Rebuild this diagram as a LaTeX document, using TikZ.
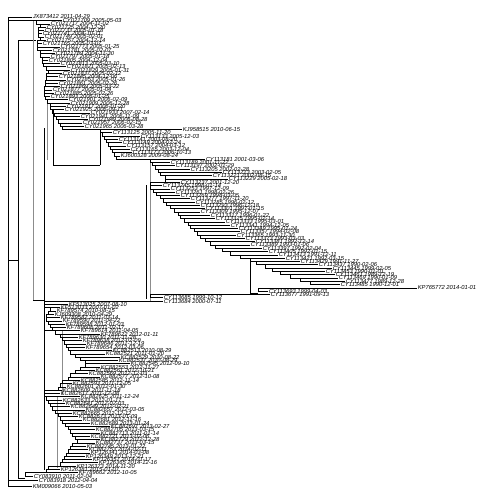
\documentclass[tikz,border=0pt]{standalone}
\usepackage{fontspec}
\setmainfont{Liberation Sans}
\begin{document}
\begin{tikzpicture}[x=1pt,y=1pt,
  br/.style={draw=black,line width=0.45pt},
  gbr/.style={draw=black!45,line width=0.6pt},
  lab/.style={anchor=west,inner sep=0.6pt,font=\fontsize{5.8}{6}\selectfont\itshape}]
\useasboundingbox (0,0) rectangle (504,-504);
% deep backbone
\draw[br] (8,-17) -- (8,-486);
\draw[br] (8,-260) -- (18,-260);
\draw[br] (18,-40) -- (18,-478);
\draw[br] (18,-40) -- (36,-40);
\draw[br] (18,-478) -- (25,-478);
\draw[gbr] (33,-20) -- (33,-300);
\draw[br] (33,-300) -- (44,-300);
\draw[br] (44,-128) -- (44,-470);
\draw[gbr] (47,-100) -- (47,-160);
\draw[br] (53,-110) -- (53,-165);
\draw[br] (53,-165) -- (100,-165);
\draw[br] (100,-129.4) -- (100,-165);
\draw[gbr] (150,-159.1) -- (150,-301);
\draw[br] (146,-185) -- (146,-299);
\draw[br] (250,-262) -- (250,-292.75);
\draw[br] (250,-292.75) -- (258,-292.75);
\draw[gbr] (62,-330) -- (62,-395);
\draw[gbr] (57,-396) -- (57,-468);
\draw[br] (44,-396.7) -- (57,-396.7);
\draw[br] (44,-330.7) -- (55,-330.7);
% leaves
\foreach \yy/\px/\tx/\lab [count=\i] in {
17.0/8/32/JX873412 2011-04-29,
20.5/36/62/CY021709 2005-05-03,
23.8/40/50/CY021717 2004-11-02,
27.1/40/46/CY021725 2004-12-20,
30.4/38/44/CY021733 2005-01-18,
33.7/38/42/CY021741 2004-10-11,
37.0/40/44/CY021749 2005-02-01,
40.3/40/46/CY021757 2004-12-14,
43.6/37/42/CY021765 2005-03-07,
46.9/37/60/CY021773 2005-01-25,
50.2/40/52/CY021781 2005-02-07,
53.5/40/55/CY021789 2004-11-30,
56.8/42/50/CY021797 2005-01-18,
60.1/42/48/CY021805 2004-12-04,
63.4/43/60/CY021813 2005-03-10,
66.7/46/66/CY021821 2005-02-13,
70.0/48/70/CY021829 2005-01-31,
73.3/48/62/CY021837 2005-02-12,
76.6/46/58/CY021845 2004-12-06,
79.9/46/66/CY021853 2005-01-26,
83.2/45/58/CY021861 2005-02-26,
86.5/45/60/CY021869 2005-03-22,
89.8/44/52/CY021877 2005-01-04,
93.1/44/54/CY021885 2005-02-26,
96.4/45/50/CY021893 2006-01-25,
99.7/47/68/CY021901 2006-02-09,
103.0/50/70/CY021909 2006-12-28,
106.3/50/66/CY021917 2006-01-20,
109.6/52/64/CY021925 2006-09-11,
112.9/54/90/CY021933 2007-02-14,
116.2/56/80/CY021941 2006-11-09,
119.5/58/88/CY021949 2006-08-28,
122.8/60/82/CY021957 2006-02-15,
126.1/62/84/CY021965 2006-03-28,
129.4/100/182/KJ958515 2010-06-15,
132.7/102/112/CY113125 2005-11-20,
136.0/104/140/CY113133 2005-12-03,
139.3/106/118/CY113141 2003-08-20,
142.6/108/122/CY113149 2004-02-24,
145.9/110/126/CY113157 2004-03-12,
149.2/112/130/CY113165 2003-12-04,
152.5/114/132/CY113173 2006-10-13,
155.8/116/120/KJ600328 2009-08-24,
159.1/150/205/CY113181 2001-03-06,
162.4/152/170/CY113189 2001-11-22,
165.7/155/175/CY113197 2002-01-29,
169.0/158/190/CY113205 2002-02-28,
172.3/160/222/CY113213 2003-02-05,
175.6/165/212/CY113221 2002-08-15,
178.9/168/228/CY113229 2005-02-18,
182.2/165/180/CY113237 2001-12-20,
185.5/150/162/CY113245 1998-01-14,
188.8/153/170/CY113253 1997-12-09,
192.1/156/175/CY113261 1998-02-26,
195.4/160/180/CY113269 1998-03-05,
198.7/163/190/CY113277 1997-11-20,
202.0/166/195/CY113285 1996-02-12,
205.3/170/200/CY113293 1996-12-18,
208.6/174/205/CY113301 1997-01-15,
211.9/178/200/CY113309 1995-12-07,
215.2/180/210/CY113317 1996-01-22,
218.5/184/215/CY113325 1995-02-14,
221.8/188/225/CY113333 1995-03-01,
225.1/190/230/CY113341 1994-12-05,
228.4/194/238/CY113349 1995-01-24,
231.7/197/240/CY113357 1994-02-08,
235.0/200/236/CY113365 1993-11-30,
238.3/205/245/CY113373 1993-03-03,
241.6/210/255/CY113381 1992-12-14,
244.9/215/250/CY113389 1993-01-06,
248.2/222/262/CY113397 1992-02-04,
251.5/230/268/CY113405 1992-01-15,
254.8/240/278/CY113413 1991-12-11,
258.1/250/285/CY113421 1992-03-15,
261.4/256/300/CY113429 1991-11-27,
264.7/265/318/CY113437 1990-02-06,
268.0/272/332/CY113445 1999-02-05,
271.3/280/325/CY113453 1990-01-01,
274.6/290/335/CY113461 1989-12-19,
277.9/300/338/CY113469 1990-01-09,
281.2/310/345/CY113477 1989-12-28,
284.5/320/340/CY113485 1990-12-01,
287.8/345/417/KP765772 2014-01-01,
291.1/258/268/CY113693 1999-04-03,
294.4/262/270/CY113677 1991-09-13,
297.7/150/163/CY113685 1999-10-12,
301.0/150/163/CY113684 2000-07-11,
304.3/44/68/KF513025 2007-08-10,
307.6/52/60/KF513033 2007-01-02,
310.9/50/56/KF789574 2010-08-15,
314.2/48/54/KJ609308 2010-04-29,
317.5/46/60/KF789582 2011-03-14,
320.8/48/62/KF789590 2011-04-22,
324.1/50/65/KF789598 2012-01-03,
327.4/52/66/KF789606 2011-02-17,
330.7/55/80/KF789614 2011-04-05,
334.0/60/100/KF789622 2012-01-11,
337.3/62/78/KF789630 2011-11-28,
340.6/64/82/KF789638 2012-02-09,
343.9/66/86/KF789646 2011-12-19,
347.2/68/85/KF789654 2012-03-06,
350.5/70/112/KC882513 2010-08-29,
353.8/75/105/KC882521 2011-01-20,
357.1/80/120/KC882529 2010-08-22,
360.4/85/118/KC882537 2010-08-29,
363.7/90/130/KC882545 2012-09-10,
367.0/85/100/KC882553 2012-11-27,
370.3/80/95/KC882561 2012-10-21,
373.6/75/88/KC882569 2012-12-03,
376.9/70/100/KC882577 2012-10-08,
380.2/68/80/KC882585 2012-11-14,
383.5/62/72/KC882593 2011-12-05,
386.8/60/66/KC882601 2012-01-30,
390.1/58/62/KC882609 2011-11-18,
393.4/44/60/KC882617 2011-12-08,
396.7/46/80/KC882625 2011-12-24,
400.0/48/62/KC882633 2012-01-17,
403.3/50/65/KC882641 2012-02-03,
406.6/52/70/KC882649 2012-02-21,
409.9/55/85/KC882657 2012-03-05,
413.2/58/72/KC882665 2012-12-12,
416.5/60/78/KC882673 2013-01-09,
419.8/62/82/KC882681 2012-11-16,
423.1/65/90/KC882689 2013-01-24,
426.4/68/110/KC882697 2013-02-27,
429.7/70/95/KC882705 2013-03-15,
433.0/72/100/KC882713 2011-01-14,
436.3/75/90/KC882721 2013-02-06,
439.6/77/100/KC882729 2012-12-28,
442.9/80/95/KC882737 2013-03-15,
446.2/72/86/KC882745 2013-01-22,
449.5/70/88/KC882753 2014-02-11,
452.8/68/90/KP126341 2014-03-08,
456.1/66/85/KP126349 2013-12-21,
459.4/64/92/KP126357 2014-01-17,
462.7/62/98/KP126365 2014-12-16,
466.0/60/76/KP126373 2014-11-20,
469.3/48/60/KP126381 2015-01-07,
472.6/46/78/KF789662 2012-10-05,
476.2/25/33/CY083910 2011-02-04,
480.0/25/38/CY083918 2012-04-04,
486.0/8/32/KM009066 2010-05-03}{
  \draw[br] (\px,-\yy) -- (\tx,-\yy);
  \node[lab] (L\i) at (\tx,-\yy) {\lab};
  \pgfmathtruncatemacro\skipit{(\i==1)||(\i==83)||(\i==85)||(\i==87)||(\i==141)}
  \ifnum\skipit=0
    \pgfmathsetmacro\mm{min(\px,\prevpx)}
    \draw[br] (\prevpx,-\prevy) -- (\mm,-\prevy) -- (\mm,-\yy) -- (\px,-\yy);
  \fi
  \xdef\prevpx{\px}\xdef\prevy{\yy}
}
\end{tikzpicture}
\end{document}
